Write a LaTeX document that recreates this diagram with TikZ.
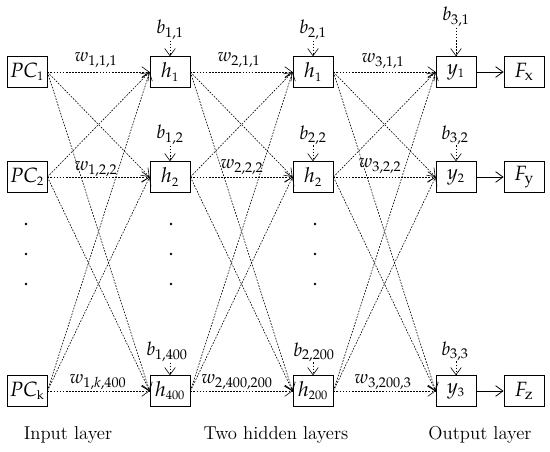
\documentclass[tikz,border=0pt]{standalone}
\usepackage{mathpazo}
\usetikzlibrary{arrows.meta}

\tikzset{
  unit/.style={draw, line width=0.6pt, minimum width=30pt, minimum height=23pt, inner sep=0pt,
    font=\fontsize{15.5}{17}\selectfont},
  link/.style={line width=0.45pt, dash pattern=on 1.3pt off 1pt, -{Straight Barb[length=5.5pt,width=8pt]}},
  solidlink/.style={line width=0.6pt, -{Straight Barb[length=5.5pt,width=8pt]}},
  wlabel/.style={inner sep=0.5pt},
  layername/.style={inner sep=0pt}
}
\newcommand{\sm}[1]{{\scriptscriptstyle #1}}

\begin{document}
\begin{tikzpicture}[x=0.75pt, y=-0.75pt, font=\fontsize{14}{16}\selectfont]
  \useasboundingbox (0,0) rectangle (550,451);

  % input layer
  \node[unit] (pc1) at (27,72)  {$PC_{\sm{1}}$};
  \node[unit] (pc2) at (27,177) {$PC_{\sm{2}}$};
  \node[unit] (pck) at (27,391) {$PC_{\sm{\mathrm{k}}}$};

  % first hidden layer
  \node[unit] (ha1)   at (170,72)  {$h_{\sm{1}}$};
  \node[unit] (ha2)   at (170,177) {$h_{\sm{2}}$};
  \node[unit] (ha400) at (170,391) {$h_{\sm{400}}$};

  % second hidden layer
  \node[unit] (hb1)   at (313,72)  {$h_{\sm{1}}$};
  \node[unit] (hb2)   at (313,177) {$h_{\sm{2}}$};
  \node[unit] (hb200) at (313,391) {$h_{\sm{200}}$};

  % output layer
  \node[unit] (y1) at (456,72)  {$y_{\sm{1}}$};
  \node[unit] (y2) at (456,177) {$y_{\sm{2}}$};
  \node[unit] (y3) at (456,391) {$y_{\sm{3}}$};

  \node[unit] (fx) at (524,72)  {$F_{\mathrm{x}}$};
  \node[unit] (fy) at (524,177) {$F_{\mathrm{y}}$};
  \node[unit] (fz) at (524,391) {$F_{\mathrm{z}}$};

  % weights
  \foreach \a in {pc1,pc2,pck}
    \foreach \b in {ha1,ha2,ha400}
      \draw[link] (\a.east) -- (\b.west);
  \foreach \a in {ha1,ha2,ha400}
    \foreach \b in {hb1,hb2,hb200}
      \draw[link] (\a.east) -- (\b.west);
  \foreach \a in {hb1,hb2,hb200}
    \foreach \b in {y1,y2,y3}
      \draw[link] (\a.east) -- (\b.west);
  \draw[solidlink] (y1) -- (fx);
  \draw[solidlink] (y2) -- (fy);
  \draw[solidlink] (y3) -- (fz);

  \node[wlabel] (w111) at (96,60)   {$w_{1,1,1}$};
  \node[wlabel] (w122) at (96,169)  {$w_{1,2,2}$};
  \node[wlabel] (w1k)  at (98,382)  {$w_{1,k,400}$};
  \node[wlabel] (w211) at (239,60)  {$w_{2,1,1}$};
  \node[wlabel] (w222) at (242,167) {$w_{2,2,2}$};
  \node[wlabel] (w24)  at (237,382) {$w_{2,400,200}$};
  \node[wlabel] (w311) at (383,61)  {$w_{3,1,1}$};
  \node[wlabel] (w322) at (380,166) {$w_{3,2,2}$};
  \node[wlabel] (w32)  at (383,382) {$w_{3,200,3}$};

  % biases
  \node[wlabel] (b11)  at (170,30)  {$b_{1,1}$};
  \node[wlabel] (b12)  at (170,135) {$b_{1,2}$};
  \node[wlabel] (b1k)  at (167,352) {$b_{1,400}$};
  \node[wlabel] (b21)  at (313,30)  {$b_{2,1}$};
  \node[wlabel] (b22)  at (313,135) {$b_{2,2}$};
  \node[wlabel] (b2k)  at (314,352) {$b_{2,200}$};
  \node[wlabel] (b31)  at (456,17)  {$b_{3,1}$};
  \node[wlabel] (b32)  at (455,135) {$b_{3,2}$};
  \node[wlabel] (b33)  at (455,351) {$b_{3,3}$};
  \draw[link] (b11.south)  -- (ha1.north);
  \draw[link] (b12.south)  -- (ha2.north);
  \draw[link] (b1k.south -| ha400.north) -- (ha400.north);
  \draw[link] (b21.south)  -- (hb1.north);
  \draw[link] (b22.south)  -- (hb2.north);
  \draw[link] (b2k.south -| hb200.north) -- (hb200.north);
  \draw[link] (b31.south -| y1.north) -- (y1.north);
  \draw[link] (b32.south -| y2.north) -- (y2.north);
  \draw[link] (b33.south -| y3.north) -- (y3.north);

  % vertical dots
  \foreach \x in {26,171,315}
    \foreach \y in {224,254,284}
      \fill (\x,\y) circle (1pt);

  \node[layername] (inlayer)  at (68,435)  {Input layer};
  \node[layername] (hidlayer) at (276,435) {Two hidden layers};
  \node[layername] (outlayer) at (480,435) {Output layer};
\end{tikzpicture}
\end{document}
